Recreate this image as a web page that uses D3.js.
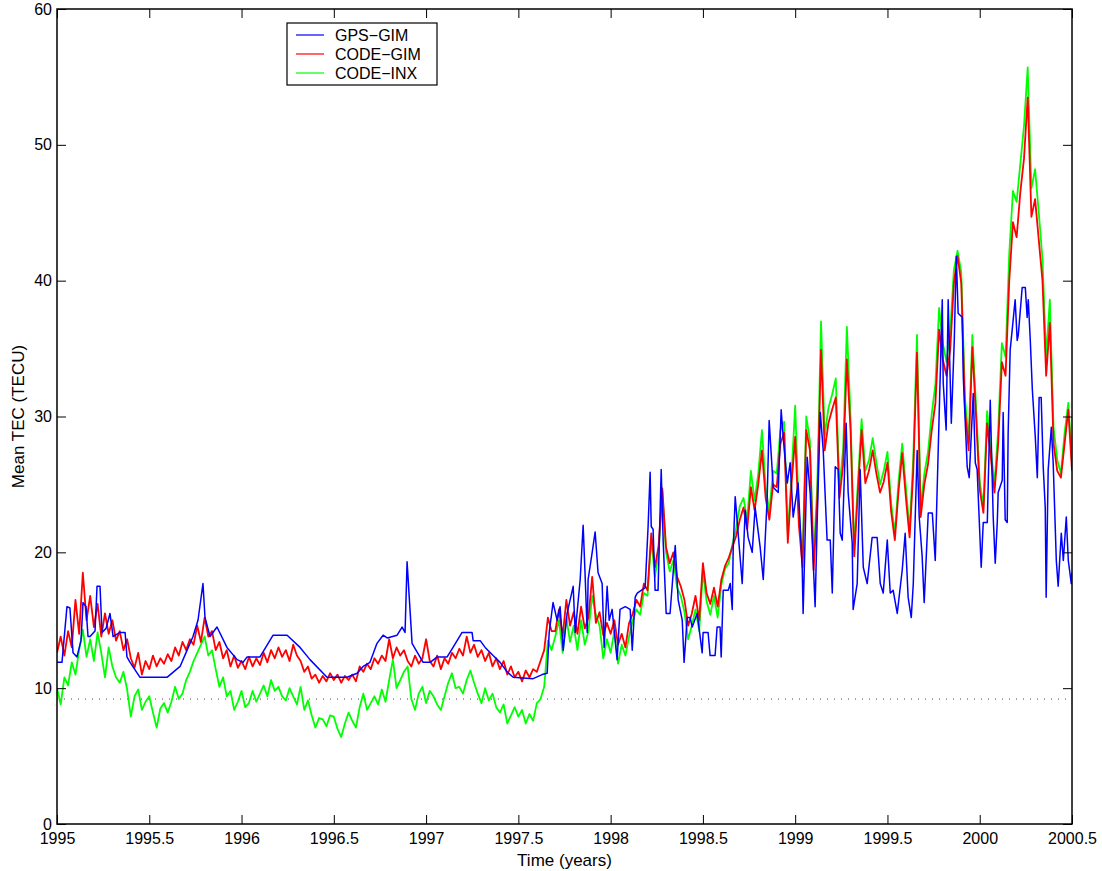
<!DOCTYPE html>
<html>
<head>
<meta charset="utf-8">
<script src="https://cdn.jsdelivr.net/npm/d3@7"></script>
<style>
    body { margin: 0; background: #fff; }
    svg text { font-family: "Liberation Sans", Arial, Helvetica, sans-serif; fill: #000; }
    .tick line { stroke: #000; }
    .domain { stroke: none; }
</style>
</head>
<body>
<svg id="fig_tec"></svg>
<script>
'use strict';

// x ticks (years) and y ticks (TECU)
const xTicks = [1995, 1995.5, 1996, 1996.5, 1997, 1997.5, 1998, 1998.5, 1999, 1999.5, 2000, 2000.5];
const yTicks = [0, 10, 20, 30, 40, 50, 60];

// CODE series are sampled on a regular grid
const codeStart = 1995;
const codeStep = 0.02;

// CODE-GIM mean TEC
const codeGim = [
    12.6, 13.8, 12.4, 14.2, 13.0, 16.5, 14.0, 18.5, 15.0, 16.8,
    14.5, 16.2, 13.8, 15.5, 14.0, 15.0, 13.5, 14.2, 12.8, 13.6,
    12.2, 11.5, 12.6, 11.0, 12.0, 11.4, 12.4, 11.6, 12.2, 11.8,
    12.5, 12.0, 13.0, 12.4, 13.4, 12.8, 13.6, 13.2, 14.6, 13.4,
    15.2, 13.8, 14.2, 12.8, 13.4, 12.2, 12.8, 11.6, 12.4, 11.5,
    12.0, 11.4, 12.3, 11.6, 12.2, 11.7, 12.6, 11.9, 12.8, 12.2,
    13.0, 12.3, 12.8, 12.0, 13.2, 12.4, 12.0, 11.2, 11.6, 10.7,
    11.0, 10.4, 10.9, 10.5, 11.1, 10.6, 11.0, 10.4, 10.9, 10.6,
    11.0, 10.5, 11.6, 11.2, 11.8, 11.4, 12.2, 11.8, 12.4, 12.0,
    13.6, 12.2, 13.0, 12.4, 12.8, 12.0, 11.6, 12.4, 11.8, 12.2,
    13.6, 12.0, 11.6, 12.4, 11.4, 12.2, 11.8, 12.6, 12.2, 12.9,
    12.4, 13.8, 12.6, 13.2, 12.3, 12.8, 12.0, 12.6, 11.6, 12.2,
    11.4, 12.0, 11.0, 11.6, 10.8, 11.2, 10.5, 11.3, 10.8, 11.4,
    11.2, 12.0, 12.8, 15.2, 14.2, 14.2, 15.8, 13.8, 16.5, 14.6,
    15.6, 14.0, 16.0, 14.4, 15.2, 18.2, 14.8, 15.6, 13.9, 14.8,
    14.0, 15.0, 13.2, 14.0, 13.0, 14.8, 15.5, 16.5, 16.0, 17.7,
    17.2, 21.4, 18.9, 20.5, 24.7, 20.4, 19.2, 20.0, 18.2, 17.5,
    16.5, 14.6, 15.5, 16.8, 15.0, 19.2, 17.0, 16.2, 17.4, 16.0,
    18.0, 19.0, 19.6, 20.4, 21.2, 22.4, 23.3, 21.7, 24.8, 23.1,
    25.0, 27.5, 24.0, 22.4, 25.0, 24.8, 28.0, 28.8, 20.7, 25.0,
    28.5, 22.0, 18.9, 29.0, 27.5, 18.7, 24.0, 34.9, 27.5, 29.5,
    30.5, 31.4, 24.0, 26.5, 34.2, 29.0, 19.7, 24.5, 29.0, 25.1,
    26.0, 27.5, 25.8, 24.4, 25.2, 26.6, 23.0, 20.9, 24.5, 27.3,
    24.0, 21.1, 26.0, 34.7, 22.6, 25.0, 26.5, 29.0, 31.0, 36.4,
    34.2, 33.0, 34.9, 39.8, 41.8, 39.8, 30.5, 27.5, 35.1, 30.0,
    24.6, 22.9, 29.5, 27.0, 24.4, 28.0, 34.0, 33.0, 40.0, 44.3,
    43.2, 46.5, 49.0, 53.5, 44.7, 46.0, 43.0, 40.0, 33.0, 36.9,
    28.0, 26.0, 25.5, 28.0, 30.5, 26.0
];

// CODE-INX mean TEC
const codeInx = [
    10.0, 8.8, 10.8, 10.2, 11.9, 11.0, 12.8, 14.3, 12.3, 13.6,
    12.0, 14.1, 12.6, 10.8, 13.0, 11.6, 10.8, 10.4, 11.2, 9.9,
    7.9, 9.4, 9.9, 8.4, 9.0, 9.4, 8.2, 7.1, 8.5, 8.9,
    8.2, 9.0, 10.1, 9.2, 9.6, 10.6, 11.2, 12.0, 12.6, 13.2,
    13.8, 12.4, 12.8, 11.4, 10.1, 10.8, 9.4, 9.8, 8.4, 9.0,
    9.8, 8.6, 8.9, 9.8, 9.0, 9.6, 10.2, 9.4, 10.6, 9.8,
    10.1, 9.4, 9.1, 10.0, 9.4, 8.8, 10.1, 8.4, 9.1, 8.0,
    7.1, 7.8, 7.7, 7.2, 8.0, 7.9, 7.0, 6.4, 7.4, 8.2,
    7.6, 7.1, 8.6, 9.6, 8.4, 8.9, 9.4, 8.8, 9.9, 9.0,
    10.6, 12.1, 10.0, 10.6, 11.2, 11.6, 9.2, 8.4, 9.6, 10.1,
    8.9, 9.8, 9.4, 8.8, 8.4, 9.4, 10.4, 11.1, 10.0, 10.1,
    9.6, 10.6, 11.3, 10.4, 9.6, 8.9, 10.0, 9.1, 9.6, 8.6,
    8.2, 8.8, 7.4, 8.0, 8.6, 7.9, 8.4, 7.4, 8.1, 7.6,
    8.9, 9.2, 10.1, 13.5, 12.8, 13.8, 15.0, 12.6, 15.2, 13.4,
    14.6, 12.8, 15.0, 13.2, 14.2, 16.8, 15.4, 14.6, 12.2, 13.6,
    12.6, 14.2, 11.8, 13.2, 12.4, 13.8, 15.0, 15.8, 15.4, 17.0,
    16.8, 21.0, 18.2, 20.0, 24.5, 20.0, 18.6, 19.4, 17.4, 16.8,
    15.6, 13.6, 14.6, 15.8, 14.2, 18.6, 16.4, 15.4, 16.8, 15.2,
    17.6, 18.8, 19.2, 20.6, 21.8, 23.4, 24.0, 22.4, 26.0, 23.8,
    25.8, 29.0, 24.8, 23.0, 26.0, 25.8, 29.0, 29.6, 21.4, 25.6,
    30.8, 22.8, 19.6, 30.0, 28.2, 19.4, 25.0, 37.0, 28.6, 30.6,
    31.6, 32.8, 24.8, 27.6, 36.6, 30.0, 20.2, 25.2, 29.8, 26.0,
    26.8, 28.4, 26.6, 25.0, 26.0, 27.4, 23.6, 21.4, 25.2, 28.0,
    24.8, 21.6, 27.0, 36.0, 23.2, 25.8, 27.4, 30.2, 32.4, 38.0,
    35.4, 34.0, 36.2, 40.8, 42.2, 40.6, 31.4, 28.2, 36.0, 30.8,
    25.2, 23.4, 30.4, 27.6, 25.0, 29.0, 35.4, 34.4, 42.0, 46.6,
    45.8, 48.6, 51.4, 55.7, 46.8, 48.2, 45.0, 41.6, 34.4, 38.6,
    29.2, 26.8, 25.8, 28.8, 31.0, 26.6
];

// GPS-GIM is irregular (step-like), so it keeps its own time list
const gpsYear = [
    1995.000, 1995.027, 1995.054, 1995.070, 1995.087, 1995.108, 1995.130, 1995.141, 1995.157, 1995.168,
    1995.179, 1995.206, 1995.217, 1995.233, 1995.244, 1995.266, 1995.287, 1995.304, 1995.341, 1995.369,
    1995.379, 1995.396, 1995.450, 1995.520, 1995.596, 1995.667, 1995.705, 1995.737, 1995.764, 1995.791,
    1995.802, 1995.829, 1995.867, 1995.921, 1995.976, 1996.008, 1996.030, 1996.100, 1996.171, 1996.247,
    1996.317, 1996.371, 1996.463, 1996.572, 1996.626, 1996.659, 1996.696, 1996.734, 1996.767, 1996.789,
    1996.843, 1996.870, 1996.886, 1996.897, 1996.924, 1996.984, 1997.022, 1997.060, 1997.114, 1997.146,
    1997.195, 1997.249, 1997.255, 1997.293, 1997.320, 1997.363, 1997.401, 1997.439, 1997.472, 1997.580,
    1997.629, 1997.656, 1997.667, 1997.688, 1997.710, 1997.726, 1997.743, 1997.764, 1997.797, 1997.808,
    1997.835, 1997.851, 1997.862, 1997.873, 1997.878, 1997.900, 1997.916, 1997.932, 1997.954, 1997.965,
    1997.981, 1997.992, 1998.008, 1998.035, 1998.051, 1998.079, 1998.106, 1998.117, 1998.133, 1998.144,
    1998.187, 1998.203, 1998.214, 1998.220, 1998.230, 1998.241, 1998.257, 1998.274, 1998.285, 1998.301,
    1998.322, 1998.350, 1998.366, 1998.388, 1998.398, 1998.415, 1998.431, 1998.442, 1998.469, 1998.496,
    1998.501, 1998.528, 1998.539, 1998.566, 1998.577, 1998.593, 1998.599, 1998.610, 1998.637, 1998.648,
    1998.659, 1998.664, 1998.675, 1998.691, 1998.713, 1998.729, 1998.745, 1998.767, 1998.783, 1998.810,
    1998.827, 1998.848, 1998.859, 1998.881, 1998.908, 1998.924, 1998.935, 1998.957, 1998.973, 1998.989,
    1999.016, 1999.038, 1999.043, 1999.065, 1999.081, 1999.098, 1999.108, 1999.119, 1999.136, 1999.152,
    1999.173, 1999.190, 1999.201, 1999.217, 1999.233, 1999.244, 1999.255, 1999.276, 1999.287, 1999.309,
    1999.314, 1999.336, 1999.352, 1999.369, 1999.390, 1999.417, 1999.444, 1999.461, 1999.477, 1999.499,
    1999.515, 1999.531, 1999.553, 1999.580, 1999.596, 1999.612, 1999.629, 1999.640, 1999.661, 1999.672,
    1999.688, 1999.699, 1999.721, 1999.743, 1999.759, 1999.775, 1999.797, 1999.802, 1999.818, 1999.829,
    1999.846, 1999.862, 1999.873, 1999.883, 1999.905, 1999.911, 1999.932, 1999.943, 1999.965, 1999.976,
    1999.986, 2000.008, 2000.019, 2000.041, 2000.057, 2000.073, 2000.084, 2000.095, 2000.100, 2000.122,
    2000.127, 2000.138, 2000.149, 2000.154, 2000.165, 2000.176, 2000.192, 2000.203, 2000.209, 2000.230,
    2000.247, 2000.257, 2000.263, 2000.274, 2000.285, 2000.301, 2000.312, 2000.322, 2000.333, 2000.344,
    2000.355, 2000.360, 2000.371, 2000.388, 2000.398, 2000.415, 2000.425, 2000.442, 2000.453, 2000.469,
    2000.480, 2000.496, 2000.500
];

// GPS-GIM mean TEC
const gpsGim = [
    11.9, 11.9, 16.0, 15.9, 12.6, 12.3, 13.5, 16.3, 16.0, 13.8,
    13.8, 14.2, 17.5, 17.5, 14.1, 14.4, 15.5, 13.8, 14.1, 14.1,
    12.3, 11.9, 10.8, 10.8, 10.8, 11.6, 12.8, 13.8, 15.0, 17.7,
    15.2, 13.8, 14.5, 13.0, 12.1, 11.9, 12.3, 12.3, 13.9, 13.9,
    13.0, 12.1, 10.8, 10.8, 11.1, 11.6, 11.9, 13.3, 13.9, 13.7,
    13.9, 14.5, 14.1, 19.3, 13.3, 11.9, 11.9, 12.3, 12.3, 13.0,
    14.1, 14.1, 13.5, 13.5, 13.0, 12.4, 11.9, 11.2, 10.8, 10.7,
    11.0, 11.1, 14.1, 16.3, 15.0, 16.0, 12.8, 15.5, 17.5, 14.1,
    18.0, 22.0, 18.2, 14.1, 18.0, 20.0, 21.5, 18.5, 17.7, 13.0,
    17.5, 15.0, 15.8, 12.1, 15.8, 16.0, 15.8, 12.8, 16.7, 17.0,
    17.4, 21.9, 25.9, 21.9, 21.7, 17.2, 17.2, 26.1, 20.7, 15.5,
    15.5, 20.5, 16.5, 15.0, 11.9, 15.2, 15.2, 14.5, 15.5, 12.6,
    14.1, 14.1, 12.4, 12.4, 14.5, 14.5, 12.3, 17.2, 17.2, 17.7,
    15.8, 20.2, 24.1, 21.4, 17.7, 23.1, 21.1, 20.0, 23.3, 20.4,
    18.0, 23.9, 29.7, 24.8, 24.4, 30.5, 28.5, 25.1, 26.6, 22.6,
    25.1, 18.9, 15.5, 27.0, 24.4, 19.2, 16.0, 22.2, 30.3, 27.5,
    20.9, 20.9, 17.0, 26.3, 26.1, 21.4, 20.9, 29.5, 24.4, 20.7,
    15.8, 17.7, 26.1, 18.9, 17.7, 21.1, 21.1, 17.7, 17.0, 20.9,
    17.0, 17.2, 15.5, 18.7, 21.4, 16.7, 15.2, 17.7, 27.5, 22.6,
    19.7, 16.3, 22.9, 22.9, 19.4, 27.5, 38.6, 32.5, 29.0, 38.6,
    29.5, 35.6, 41.8, 37.6, 37.3, 32.9, 26.3, 25.5, 31.7, 26.6,
    26.1, 18.9, 22.2, 22.2, 31.2, 22.6, 19.2, 22.2, 24.4, 25.3,
    30.3, 22.4, 22.2, 28.8, 34.9, 36.4, 38.6, 35.6, 36.0, 39.5,
    39.5, 37.3, 38.6, 35.6, 32.0, 28.5, 25.5, 31.4, 31.4, 26.3,
    23.3, 16.7, 26.1, 29.2, 26.6, 19.4, 17.5, 21.4, 19.4, 22.6,
    19.4, 17.7, 18.5
];

// dotted reference level (TECU)
const refLevel = 9.2;

const seriesNames = ['GPS\u2212GIM', 'CODE\u2212GIM', 'CODE\u2212INX'];
const seriesColors = ['#0000ff', '#ff0000', '#00ff00'];

const fig_tec = {
    svg_id: '#fig_tec',
    width: 1102,
    height: 871,
    left: 57,
    right: 1072,
    top: 9,
    bottom: 824,
    tick_len: 9,
    font_size: 16,
    title_size: 17,

    draw: function() {
        const svg = d3.select(this.svg_id)
            .attr('width', this.width)
            .attr('height', this.height);

        const x = d3.scaleLinear()
            .domain([xTicks[0], xTicks[xTicks.length - 1]])
            .range([this.left, this.right]);
        const y = d3.scaleLinear()
            .domain([yTicks[0], yTicks[yTicks.length - 1]])
            .range([this.bottom, this.top]);

        svg.append('clipPath').attr('id', 'plot_clip')
            .append('rect')
            .attr('x', this.left).attr('y', this.top)
            .attr('width', this.right - this.left)
            .attr('height', this.bottom - this.top);

        const plot = svg.append('g').attr('clip-path', 'url(#plot_clip)');

        // dotted reference level
        plot.append('line')
            .attr('x1', x(xTicks[0])).attr('x2', x(xTicks[xTicks.length - 1]))
            .attr('y1', y(refLevel)).attr('y2', y(refLevel))
            .attr('stroke', '#444')
            .attr('stroke-width', 1)
            .attr('stroke-dasharray', '1,6');

        const line = d3.line()
            .x(d => x(d[0]))
            .y(d => y(d[1]));

        const codeYears = codeGim.map((v, i) => codeStart + i * codeStep);
        const series = [
            gpsYear.map((t, i) => [t, gpsGim[i]]),
            codeYears.map((t, i) => [t, codeGim[i]]),
            codeYears.map((t, i) => [t, codeInx[i]])
        ];
        const widths = [1.5, 1.8, 1.8];

        // green first, then red, blue on top
        [2, 1, 0].forEach(k => {
            plot.append('path')
                .datum(series[k])
                .attr('fill', 'none')
                .attr('stroke', seriesColors[k])
                .attr('stroke-width', widths[k])
                .attr('stroke-linejoin', 'round')
                .attr('d', line);
        });

        // axes, ticks pointing inward on all four sides
        const fs = this.font_size;
        const fmtYear = d => d3.format('')(d);

        const axB = svg.append('g')
            .attr('transform', 'translate(0,' + this.bottom + ')')
            .call(d3.axisBottom(x).tickValues(xTicks).tickFormat(fmtYear)
                .tickSizeInner(-this.tick_len).tickSizeOuter(0).tickPadding(9));
        const axT = svg.append('g')
            .attr('transform', 'translate(0,' + this.top + ')')
            .call(d3.axisTop(x).tickValues(xTicks).tickFormat('')
                .tickSizeInner(-this.tick_len).tickSizeOuter(0));
        const axL = svg.append('g')
            .attr('transform', 'translate(' + this.left + ',0)')
            .call(d3.axisLeft(y).tickValues(yTicks)
                .tickSizeInner(-this.tick_len).tickSizeOuter(0).tickPadding(5));
        const axR = svg.append('g')
            .attr('transform', 'translate(' + this.right + ',0)')
            .call(d3.axisRight(y).tickValues(yTicks).tickFormat('')
                .tickSizeInner(-this.tick_len).tickSizeOuter(0));

        [axB, axT, axL, axR].forEach(a => {
            a.selectAll('text')
                .style('font-size', fs + 'px')
                .style('font-family', '"Liberation Sans", Arial, sans-serif')
                .attr('fill', '#000');
            a.selectAll('.tick line').attr('stroke-width', 1);
        });

        // box
        svg.append('rect')
            .attr('x', this.left).attr('y', this.top)
            .attr('width', this.right - this.left)
            .attr('height', this.bottom - this.top)
            .attr('fill', 'none')
            .attr('stroke', '#000')
            .attr('stroke-width', 1.5);

        // axis labels
        svg.append('text')
            .attr('x', (this.left + this.right) / 2)
            .attr('y', 866)
            .attr('text-anchor', 'middle')
            .style('font-size', this.title_size + 'px')
            .text('Time (years)');

        svg.append('text')
            .attr('transform', 'translate(24,' + ((this.top + this.bottom) / 2) + ') rotate(-90)')
            .attr('text-anchor', 'middle')
            .style('font-size', this.title_size + 'px')
            .text('Mean TEC (TECU)');

        // legend
        const lg = svg.append('g').attr('transform', 'translate(287,23)');
        lg.append('rect')
            .attr('width', 150).attr('height', 62)
            .attr('fill', '#fff')
            .attr('stroke', '#000')
            .attr('stroke-width', 1.2);
        seriesNames.forEach((name, i) => {
            const row = 12 + i * 19;
            lg.append('line')
                .attr('x1', 9).attr('x2', 37)
                .attr('y1', row).attr('y2', row)
                .attr('stroke', seriesColors[i])
                .attr('stroke-width', 1.2);
            lg.append('text')
                .attr('x', 48).attr('y', row + 6)
                .style('font-size', fs + 'px')
                .text(name);
        });
    }
};

fig_tec.draw();
</script>
</body>
</html>
